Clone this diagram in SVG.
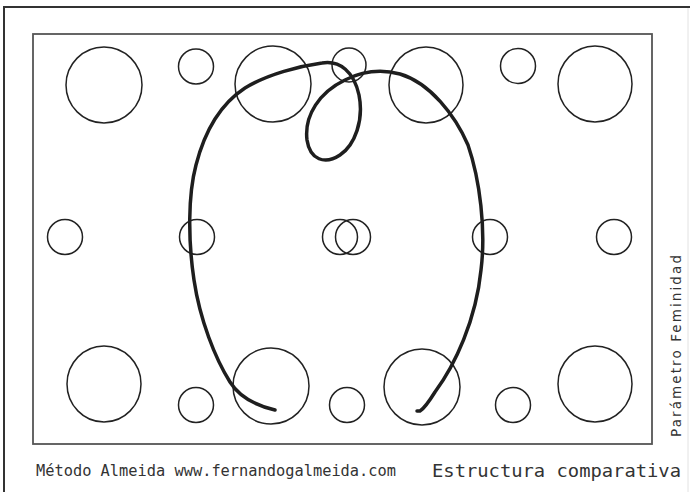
<svg xmlns="http://www.w3.org/2000/svg" width="690" height="492" viewBox="0 0 690 492">
<style>
.c{fill:none;stroke:#222;stroke-width:1.5}
.curve{fill:none;stroke:#1e1e1e;stroke-width:3.5;stroke-linecap:round;stroke-linejoin:round}
.mono{font-family:"DejaVu Sans Mono","Liberation Mono",monospace;fill:#333}
</style>
<rect width="690" height="492" fill="#fff"/>
<g id="frame">
<path d="M4,492 V7 H690" fill="none" stroke="#333" stroke-width="2"/>
<line x1="688" y1="8" x2="688" y2="492" stroke="#e2e2e2" stroke-width="1"/>
<rect x="33" y="34" width="619" height="410" fill="none" stroke="#555" stroke-width="1.8"/>
</g>
<g id="top-row">
<ellipse id="t1" class="c" cx="104" cy="85" rx="38" ry="38"/>
<circle id="t2" class="c" cx="196" cy="66.5" r="17.5"/>
<ellipse id="t3" class="c" cx="273" cy="84" rx="38" ry="38"/>
<circle id="t4" class="c" cx="349" cy="65" r="17"/>
<ellipse id="t5" class="c" cx="426" cy="85" rx="37" ry="38"/>
<circle id="t6" class="c" cx="518" cy="66" r="17.5"/>
<ellipse id="t7" class="c" cx="595" cy="84" rx="37" ry="38"/>
</g>
<g id="middle-row">
<circle id="m1" class="c" cx="65" cy="237" r="17.5"/>
<circle id="m2" class="c" cx="197" cy="237" r="17.5"/>
<circle id="m3a" class="c" cx="340" cy="237" r="17.5"/>
<circle id="m3b" class="c" cx="353" cy="237" r="17.5"/>
<circle id="m4" class="c" cx="490" cy="237" r="17.5"/>
<circle id="m5" class="c" cx="614" cy="237" r="17.5"/>
</g>
<g id="bottom-row">
<ellipse id="b1" class="c" cx="104" cy="384" rx="37" ry="38"/>
<circle id="b2" class="c" cx="196" cy="405" r="17.5"/>
<ellipse id="b3" class="c" cx="271" cy="386" rx="38" ry="38"/>
<circle id="b4" class="c" cx="347" cy="405" r="17.5"/>
<ellipse id="b5" class="c" cx="422" cy="387" rx="38" ry="38"/>
<circle id="b6" class="c" cx="513" cy="405" r="17.5"/>
<ellipse id="b7" class="c" cx="595" cy="384" rx="37" ry="38"/>
</g>
<g id="connectors">
<path class="curve" d="M275,410 C258,406 240,398 230,382 C215,358 200,320 194,280 C188,240 188,195 196,165 C205,130 222,103 245,88 C268,74 300,66 322,63 C340,60 354,72 359,95 C364,120 355,145 340,155 C325,165 310,160 307,140 C304,115 320,92 345,80 C365,70 385,70 400,74 C430,83 455,115 468,145 C480,180 486,230 481,270 C476,320 455,365 435,392 C430,400 425,408 420,411 L417,411"/>
</g>
<g id="labels">
<text class="mono" x="36" y="476" font-size="15" textLength="360" lengthAdjust="spacingAndGlyphs">Método Almeida www.fernandogalmeida.com</text>
<text class="mono" x="432" y="477" font-size="18.5" textLength="249" lengthAdjust="spacingAndGlyphs">Estructura comparativa</text>
<text x="0" y="0" transform="translate(681,437) rotate(-90)" font-family="'DejaVu Sans','Liberation Sans',sans-serif" font-size="13.5" fill="#333" textLength="182" lengthAdjust="spacing">Parámetro Feminidad</text>
</g>
</svg>
